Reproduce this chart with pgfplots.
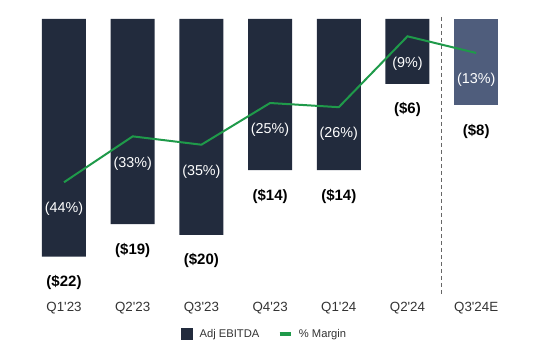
\documentclass[border=0pt]{standalone}
\usepackage{pgfplots}
\pgfplotsset{compat=1.18}
\usepackage{fontspec}
\setmainfont{Liberation Sans}
\definecolor{navy}{HTML}{222B3D}
\definecolor{slate}{HTML}{4F5D7C}
\definecolor{mgreen}{HTML}{1F9A4A}
\definecolor{txt}{HTML}{333333}
\begin{document}
\begin{tikzpicture}
\useasboundingbox (0,0) rectangle (405pt,-270pt);
\begin{axis}[
  at={(0,0)}, anchor=north west,
  width=405pt, height=222pt, scale only axis,
  xmin=-0.9316, xmax=6.929,
  ymin=-25.65, ymax=1.759,
  axis line style={draw=none},
  major tick length=0pt,
  ytick=\empty,
  xtick={0,...,6},
  xticklabels={Q1\textquotesingle23,Q2\textquotesingle23,Q3\textquotesingle23,Q4\textquotesingle23,Q1\textquotesingle24,Q2\textquotesingle24,Q3\textquotesingle24E},
  xticklabel style={font=\fontsize{10}{12}\selectfont, text=txt, anchor=north, inner sep=0pt, yshift=-4.5pt},
  point meta=explicit symbolic,
  nodes near coords,
  every node near coord/.append style={anchor=center, yshift=-19.5pt, font=\fontsize{11.25}{13}\selectfont\bfseries, text=black},
]
\addplot[ybar, bar width=33pt, bar shift=0pt, fill=navy, draw=none] coordinates {
 (0,-22) [(\$22)]
 (1,-19) [(\$19)]
 (2,-20) [(\$20)]
 (3,-14) [(\$14)]
 (4,-14) [(\$14)]
 (5,-6) [(\$6)]
};
\addplot[ybar, bar width=33pt, bar shift=0pt, fill=slate, draw=none] coordinates {
 (6,-8) [(\$8)]
};
\draw[gray!80!black, line width=0.6pt, dash pattern=on 3pt off 2.25pt] (axis cs:5.5,0.185) -- (axis cs:5.5,-25.56);
\end{axis}
\begin{axis}[
  at={(0,0)}, anchor=north west,
  width=405pt, height=222pt, scale only axis,
  xmin=-0.9316, xmax=6.929,
  ymin=-71.29, ymax=-0.29,
  hide axis,
  point meta=explicit symbolic,
  nodes near coords,
  every node near coord/.append style={anchor=center, yshift=-20.25pt, font=\fontsize{10.75}{13}\selectfont, text=white},
  legend style={at={(0.491,0)}, anchor=center, yshift=-28.5pt, draw=none, fill=none,
    font=\fontsize{8.4}{10}\selectfont, text=txt, legend columns=2,
    /tikz/every odd column/.append style={column sep=3pt},
    /tikz/every even column/.append style={column sep=12pt}},
]
\addlegendimage{legend image code/.code={\fill[navy] (0pt,-4.1pt) rectangle (8.25pt,4.1pt);}}
\addlegendentry{Adj EBITDA}
\addplot[mgreen, line width=1.5pt, legend image code/.code={\draw[mgreen, line width=2.4pt] (0pt,0pt) -- (8.25pt,0pt);}] coordinates {
 (0,-44) [(44\%)]
 (1,-33) [(33\%)]
 (2,-35) [(35\%)]
 (3,-25) [(25\%)]
 (4,-26) [(26\%)]
 (5,-9) [(9\%)]
 (6,-13) [(13\%)]
};
\addlegendentry{\% Margin}
\end{axis}
\end{tikzpicture}
\end{document}
